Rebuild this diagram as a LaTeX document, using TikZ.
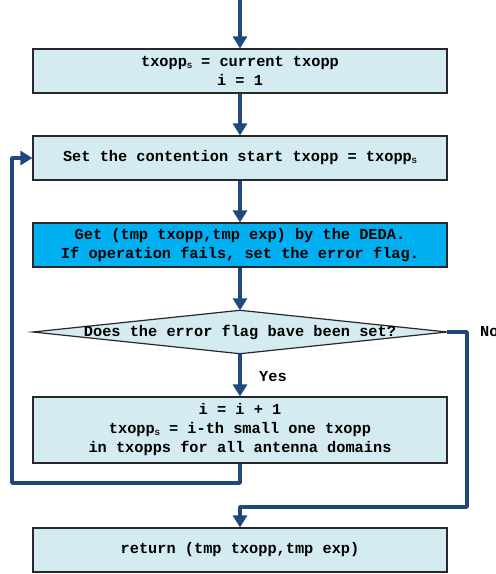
\documentclass[tikz,border=0pt]{standalone}
\usepackage{fontspec}
\usetikzlibrary{arrows.meta,backgrounds}
\newfontfamily\codefont{Liberation Mono}
\newfontfamily\subfont{Liberation Sans}
\definecolor{boxfill}{RGB}{212,235,242}
\definecolor{hotfill}{RGB}{0,176,240}
\definecolor{flowblue}{RGB}{31,73,125}
\definecolor{boxedge}{RGB}{40,40,40}
\newcommand{\sub}{\raisebox{-1.5pt}{\subfont\fontsize{7.5}{7.5}\selectfont S}}
\tikzset{
  codetext/.style={font=\codefont\bfseries\fontsize{15.3}{19}\selectfont},
  stepbox/.style={codetext, draw=boxedge, line width=1.2pt, fill=boxfill, rectangle,
    minimum width=414pt, minimum height=44pt, inner sep=0pt, align=center},
  flow/.style={draw=flowblue, line width=3.4pt, line join=round,
    -{Triangle[width=14pt,length=12pt]}},
  lbl/.style={codetext, inner sep=0pt, anchor=west}
}
\begin{document}
\begin{tikzpicture}[x=1pt,y=-1pt]
\useasboundingbox (0,0) rectangle (496,574);

\coordinate (top) at (240,0);
\node[stepbox] (init) at (240,71) {txopp\sub{} = current txopp\\i = 1};
\node[stepbox] (start) at (240,158) {Set the contention start txopp = txopp\sub};
\node[stepbox, fill=hotfill] (deda) at (240,245) {Get (tmp txopp,tmp exp) by the DEDA.\\If operation fails, set the error flag.};
\node[codetext, rectangle, minimum width=414pt, minimum height=43pt, inner sep=0pt] (test) at (240,332) {Does the error flag bave been set?};
\begin{scope}[on background layer]
  \draw[draw=boxedge, line width=1.2pt, fill=boxfill]
    (test.west) -- (test.north) -- (test.east) -- (test.south) -- cycle;
\end{scope}
\node[stepbox, minimum height=66pt] (next) at (240,430) {i = i + 1\\txopp\sub{} = i-th small one txopp\\in txopps for all antenna domains};
\node[stepbox] (ret) at (240,550) {return (tmp txopp,tmp exp)};

\node[lbl] (yes) at (259,377) {Yes};
\node[lbl] (no) at (480,332) {No};

% main sequence
\draw[flow] (top) -- (init.north);
\draw[flow] (init.south) -- (start.north);
\draw[flow] (start.south) -- (deda.north);
\draw[flow] (deda.south) -- (test.north);
\draw[flow] (test.south) -- (next.north);

% loop back to the contention start
\coordinate (loopA) at (240,483);
\coordinate (loopB) at (12,483);
\coordinate (loopC) at (12,158);
\draw[flow] (next.south) -- (loopA) -- (loopB) -- (loopC) -- (start.west);

% no-branch to the return step
\coordinate (noA) at (467,332);
\coordinate (noB) at (467,507);
\coordinate (noC) at (240,507);
\draw[flow] (test.east) -- (noA) -- (noB) -- (noC) -- (ret.north);
\end{tikzpicture}
\end{document}
